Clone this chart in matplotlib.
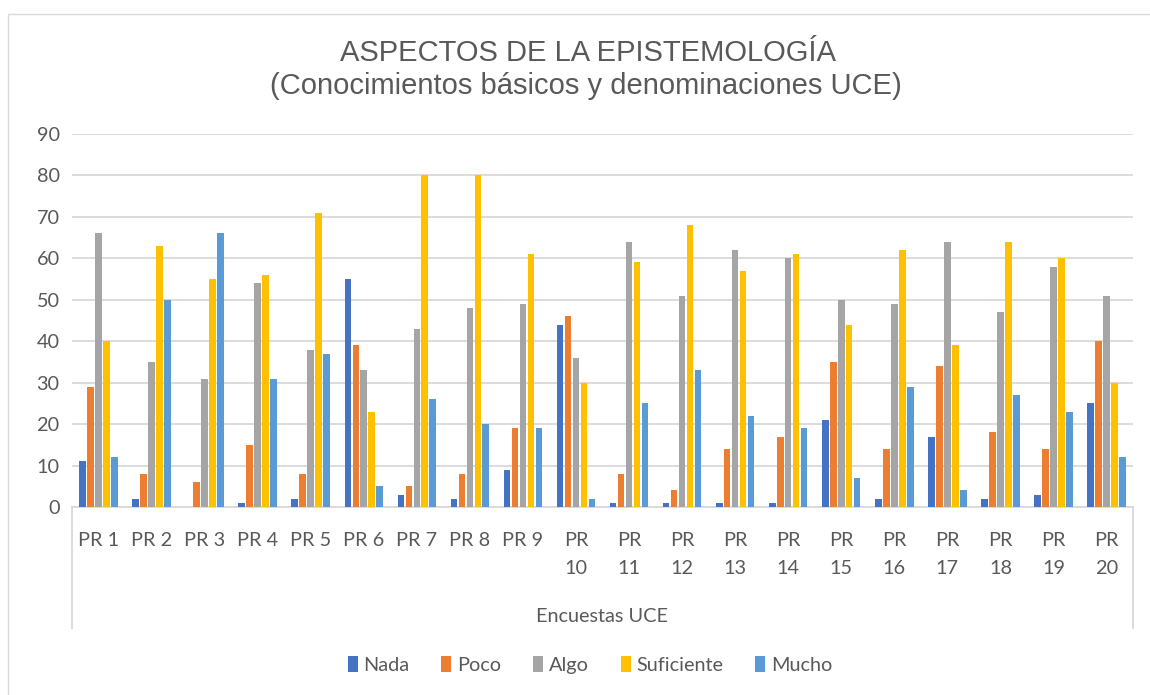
import numpy as np
import matplotlib
matplotlib.use("Agg")
import matplotlib.pyplot as plt
from matplotlib.patches import Rectangle

# data
categories = ["PR 1", "PR 2", "PR 3", "PR 4", "PR 5", "PR 6", "PR 7", "PR 8", "PR 9", "PR\n10",
              "PR\n11", "PR\n12", "PR\n13", "PR\n14", "PR\n15", "PR\n16", "PR\n17", "PR\n18", "PR\n19", "PR\n20"]
series_names = ["Nada", "Poco", "Algo", "Suficiente", "Mucho"]
nada = [11, 2, 0, 1, 2, 55, 3, 2, 9, 44, 1, 1, 1, 1, 21, 2, 17, 2, 3, 25]
poco = [29, 8, 6, 15, 8, 39, 5, 8, 19, 46, 8, 4, 14, 17, 35, 14, 34, 18, 14, 40]
algo = [66, 35, 31, 54, 38, 33, 43, 48, 49, 36, 64, 51, 62, 60, 50, 49, 64, 47, 58, 51]
suficiente = [40, 63, 55, 56, 71, 23, 80, 80, 61, 30, 59, 68, 57, 61, 44, 62, 39, 64, 60, 30]
mucho = [12, 50, 66, 31, 37, 5, 26, 20, 19, 2, 25, 33, 22, 19, 7, 29, 4, 27, 23, 12]
colors = ["#4472C4", "#ED7D31", "#A5A5A5", "#FFC000", "#5B9BD5"]

W, H = 1150, 695
fig = plt.figure(figsize=(W / 100, H / 100), dpi=100)

# outer chart border (only left/top visible in the reference)
fig.patches.append(Rectangle((8 / W, -0.05), 1.1, 1 - 14 / H + 0.05, transform=fig.transFigure,
                             fill=False, edgecolor="#D9D9D9", linewidth=1.0))

left, right, top, bottom = 72, 1133, 134, 507
ax = fig.add_axes([left / W, 1 - bottom / H, (right - left) / W, (bottom - top) / H])

x = np.arange(len(categories))
step = 0.15
width = 0.125
all_series = [nada, poco, algo, suficiente, mucho]
for i, (name, vals) in enumerate(zip(series_names, all_series)):
    ax.bar(x + (i - 2) * step, vals, width, color=colors[i], label=name, zorder=3)

ax.set_xlim(-0.5, len(categories) - 0.5)
ax.set_ylim(0, 90)
ax.set_yticks(range(0, 91, 10))
ax.yaxis.grid(True, color="#D9D9D9", linewidth=1.3, zorder=0)
ax.set_axisbelow(True)
for s in ["top", "right", "left"]:
    ax.spines[s].set_visible(False)
ax.spines["bottom"].set_color("#D9D9D9")
ax.spines["bottom"].set_linewidth(1.3)

fs = 14.3
ax.set_xticks(x)
ax.set_xticklabels(categories, linespacing=1.8, va="top")
ax.tick_params(axis="x", length=0, pad=18, labelsize=fs, labelcolor="#595959")
ax.tick_params(axis="y", length=0, pad=9, labelsize=fs, labelcolor="#595959")
for lab in ax.get_xticklabels() + ax.get_yticklabels():
    lab.set_family("Lato")

# multi-level category axis edges
depth = (628 - bottom) / (bottom - top)
for xa in (0, 1):
    ax.plot([xa, xa], [0, -depth], transform=ax.transAxes, color="#D9D9D9",
            linewidth=1.3, clip_on=False)

fig.text(602 / W, 1 - 616 / H, "Encuestas UCE", ha="center", va="center",
         fontsize=fs, color="#595959", family="Lato")

fig.text(588 / W, 1 - 53 / H, "ASPECTOS DE LA EPISTEMOLOGÍA", ha="center", va="center",
         fontsize=21, color="#595959", family="Liberation Sans")
fig.text(586 / W, 1 - 86 / H, "(Conocimientos básicos y denominaciones UCE)", ha="center", va="center",
         fontsize=21, color="#595959", family="Liberation Sans")

leg = fig.legend(loc="center", bbox_to_anchor=(590 / W, 1 - 665 / H), ncol=5, frameon=False,
                 handlelength=0.5, handleheight=0.9, handletextpad=0.3, columnspacing=1.6,
                 prop={"family": "Lato", "size": fs})
for t in leg.get_texts():
    t.set_color("#595959")

fig.savefig("out.png", dpi=100)
